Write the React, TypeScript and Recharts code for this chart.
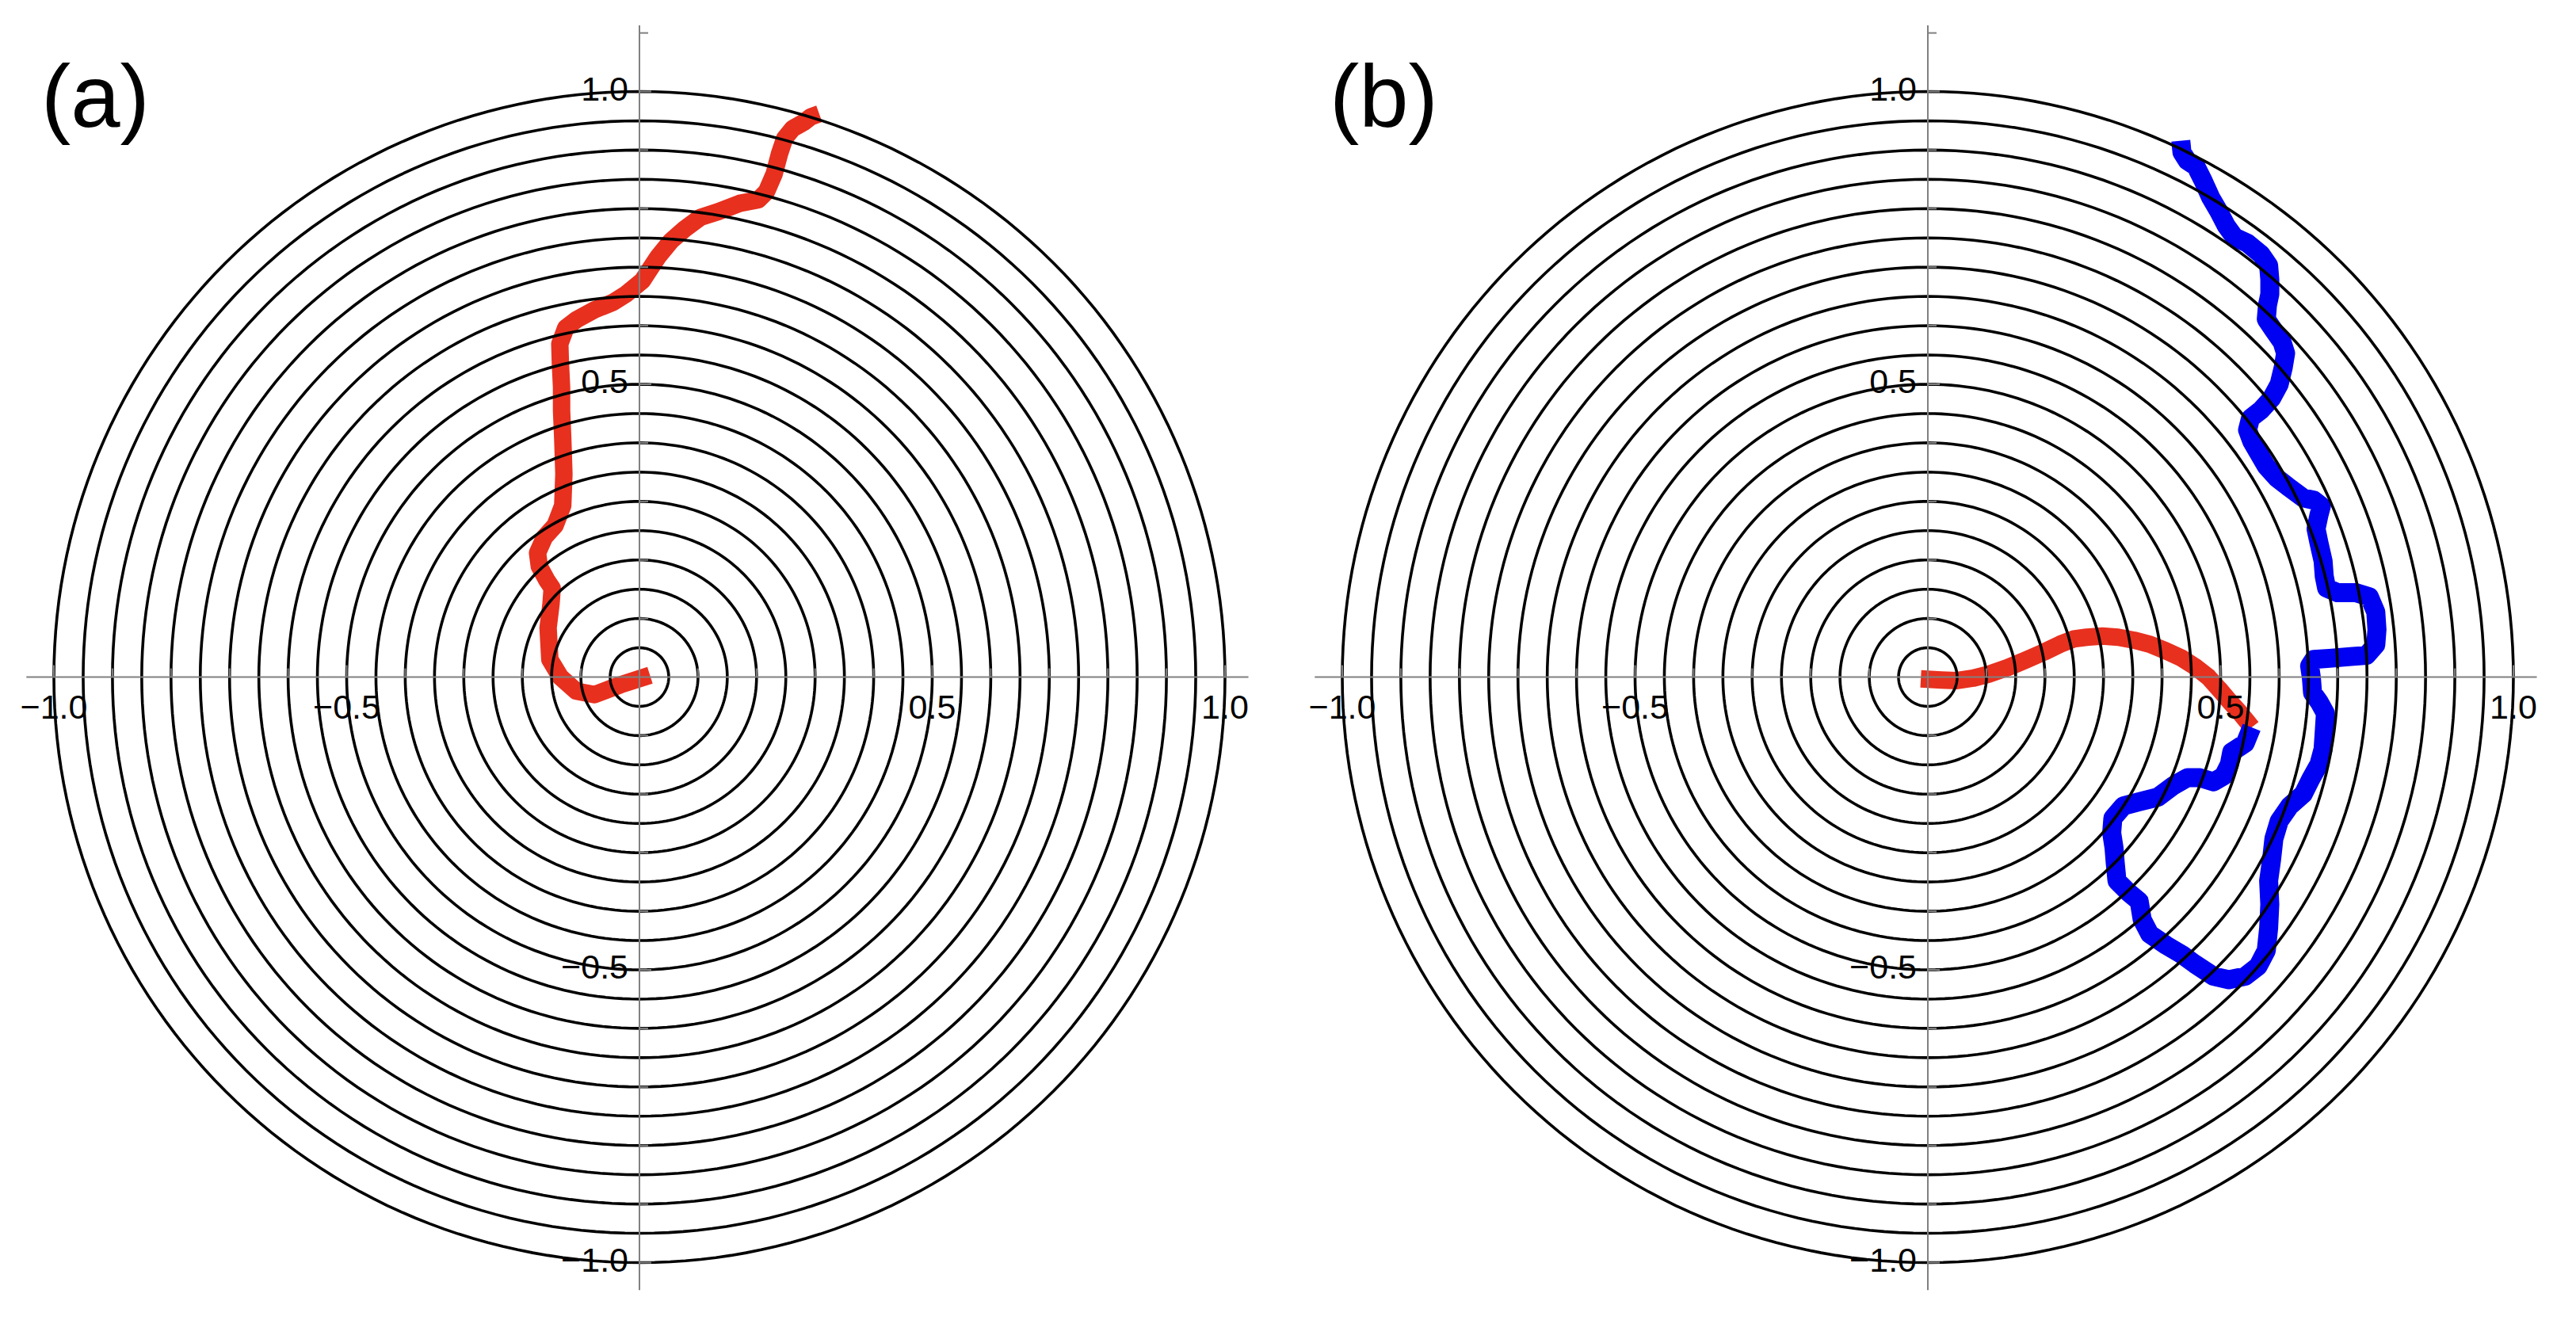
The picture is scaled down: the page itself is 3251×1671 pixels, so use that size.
import React from 'react';
import { ComposedChart, Line, XAxis, YAxis, ReferenceLine, ReferenceDot } from 'recharts';

// ---- data (x, y in plot units) ----
const redPathA: [number, number][] = [
  [0.018, 0.003], [-0.032, -0.013], [-0.077, -0.03], [-0.108, -0.024], [-0.135, 0.0], [-0.153, 0.03],
  [-0.156, 0.084], [-0.151, 0.125], [-0.149, 0.152], [-0.158, 0.165], [-0.171, 0.189], [-0.174, 0.212],
  [-0.162, 0.239], [-0.144, 0.259], [-0.131, 0.293], [-0.129, 0.347], [-0.131, 0.408], [-0.133, 0.455],
  [-0.133, 0.495], [-0.135, 0.536], [-0.136, 0.569], [-0.126, 0.596], [-0.108, 0.61], [-0.077, 0.627],
  [-0.045, 0.64], [-0.023, 0.654], [0.005, 0.677], [0.018, 0.697], [0.032, 0.718], [0.054, 0.745],
  [0.077, 0.765], [0.104, 0.785], [0.135, 0.795], [0.171, 0.809], [0.203, 0.815], [0.217, 0.829],
  [0.23, 0.859], [0.239, 0.893], [0.248, 0.92], [0.262, 0.937], [0.28, 0.947], [0.293, 0.957], [0.307, 0.962],
];

const redPathB: [number, number][] = [
  [-0.012, -0.003], [0.023, -0.005], [0.05, -0.006], [0.077, -0.002], [0.104, 0.005], [0.136, 0.016],
  [0.167, 0.029], [0.199, 0.043], [0.226, 0.056], [0.249, 0.065], [0.271, 0.068], [0.298, 0.07],
  [0.325, 0.068], [0.352, 0.063], [0.379, 0.056], [0.406, 0.045], [0.434, 0.032], [0.456, 0.018],
  [0.479, 0.0], [0.497, -0.02], [0.515, -0.041], [0.533, -0.061], [0.546, -0.077], [0.553, -0.086],
];

const bluePathB: [number, number][] = [
  [0.553, -0.086], [0.542, -0.113], [0.519, -0.128], [0.515, -0.149], [0.505, -0.169], [0.488, -0.179],
  [0.465, -0.172], [0.443, -0.172], [0.42, -0.185], [0.393, -0.205], [0.361, -0.213], [0.334, -0.22],
  [0.316, -0.241], [0.314, -0.266], [0.318, -0.292], [0.32, -0.317], [0.323, -0.348], [0.343, -0.368],
  [0.361, -0.383], [0.366, -0.414], [0.379, -0.439], [0.407, -0.458], [0.434, -0.474], [0.456, -0.49],
  [0.488, -0.511], [0.514, -0.517], [0.542, -0.511], [0.564, -0.494], [0.578, -0.467], [0.582, -0.429],
  [0.584, -0.388], [0.582, -0.348], [0.587, -0.312], [0.591, -0.276], [0.6, -0.246], [0.618, -0.22],
  [0.641, -0.2], [0.654, -0.174], [0.668, -0.149], [0.675, -0.123], [0.677, -0.093], [0.679, -0.062],
  [0.668, -0.042], [0.657, -0.027], [0.655, -0.001], [0.652, 0.019], [0.659, 0.03], [0.686, 0.032],
  [0.722, 0.035], [0.749, 0.037], [0.765, 0.055], [0.767, 0.081], [0.765, 0.111], [0.754, 0.137],
  [0.731, 0.144], [0.7, 0.144], [0.681, 0.152], [0.677, 0.172], [0.675, 0.198], [0.668, 0.229],
  [0.663, 0.253], [0.668, 0.277], [0.672, 0.292], [0.659, 0.302], [0.641, 0.306], [0.614, 0.326],
  [0.596, 0.34], [0.578, 0.36], [0.564, 0.384], [0.553, 0.403], [0.546, 0.422], [0.551, 0.442],
  [0.569, 0.456], [0.587, 0.476], [0.6, 0.5], [0.607, 0.529], [0.611, 0.553], [0.605, 0.572],
  [0.591, 0.592], [0.578, 0.611], [0.58, 0.635], [0.584, 0.654], [0.584, 0.679], [0.582, 0.703],
  [0.569, 0.722], [0.546, 0.741], [0.524, 0.751], [0.51, 0.77], [0.497, 0.795], [0.483, 0.819],
  [0.47, 0.848], [0.458, 0.872], [0.443, 0.882], [0.434, 0.896], [0.432, 0.916],
];

const ringRadii = [
  0.05, 0.1, 0.15, 0.2, 0.25, 0.3, 0.35, 0.4, 0.45, 0.5,
  0.55, 0.6, 0.65, 0.7, 0.75, 0.8, 0.85, 0.9, 0.95, 1.0,
];

const xTickValues = [-1, -0.9, -0.8, -0.7, -0.6, -0.5, -0.4, -0.3, -0.2, -0.1, 0.1, 0.2, 0.3, 0.4, 0.5, 0.6, 0.7, 0.8, 0.9, 1];
const yTickValues = [...xTickValues, 1.1];
const tickLabels: Record<string, string> = { '-1': '−1.0', '-0.5': '−0.5', '0.5': '0.5', '1': '1.0' };

const xAxisExtent = [-1.047, 1.04];
const yAxisExtent = [-1.047, 1.113];

// ---- styling ----
const FONT = "'Liberation Sans', Arial, Helvetica, sans-serif";
const AXIS_COLOR = '#808080';
const RED = '#E8301F';
const BLUE = '#0000F2';
const PANEL_W = 1626;
const PANEL_H = 1671;

const toPoints = (arr: [number, number][]) => arr.map(([x, y]) => ({ x, y }));

const ringPoints = (r: number) => {
  const steps = 240;
  return Array.from({ length: steps + 1 }, (_, i) => {
    const t = (2 * Math.PI * i) / steps;
    return { x: r * Math.cos(t), y: r * Math.sin(t) };
  });
};

const xTickShape = (v: number) => (p: any) => {
  const label = tickLabels[String(v)];
  return (
    <g>
      <line x1={p.cx} y1={p.cy} x2={p.cx} y2={p.cy - (label ? 15 : 11)} stroke={AXIS_COLOR} strokeWidth={2} />
      {label ? (
        <text x={p.cx} y={p.cy + 52} textAnchor="middle" fontSize={43} fontFamily={FONT} fill="#000">
          {label}
        </text>
      ) : null}
    </g>
  );
};

const yTickShape = (v: number) => (p: any) => {
  const label = tickLabels[String(v)];
  return (
    <g>
      <line x1={p.cx} y1={p.cy} x2={p.cx + (label ? 15 : 11)} y2={p.cy} stroke={AXIS_COLOR} strokeWidth={2} />
      {label ? (
        <text x={p.cx - 14} y={p.cy + 11} textAnchor="end" fontSize={43} fontFamily={FONT} fill="#000">
          {label}
        </text>
      ) : null}
    </g>
  );
};

function Panel({ paths }: { paths: { pts: [number, number][]; color: string; width: number }[] }) {
  return (
    <ComposedChart width={PANEL_W} height={PANEL_H} margin={{ top: 4.65, right: 13.5, bottom: 3.6, left: 1.5 }}>
      <XAxis dataKey="x" type="number" domain={[-1.09, 1.09]} allowDataOverflow hide />
      <YAxis type="number" domain={[-1.1, 1.15]} allowDataOverflow hide />
      {paths.map((s, i) => (
        <Line
          key={'p' + i}
          data={toPoints(s.pts)}
          dataKey="y"
          type="linear"
          stroke={s.color}
          strokeWidth={s.width}
          strokeLinejoin="round"
          strokeLinecap="butt"
          dot={false}
          activeDot={false}
          isAnimationActive={false}
        />
      ))}
      {ringRadii.map((r) => (
        <Line
          key={'r' + r}
          data={ringPoints(r)}
          dataKey="y"
          type="linear"
          stroke="#000"
          strokeWidth={3.6}
          dot={false}
          activeDot={false}
          isAnimationActive={false}
        />
      ))}
      <ReferenceLine
        segment={[{ x: xAxisExtent[0], y: 0 }, { x: xAxisExtent[1], y: 0 }]}
        stroke={AXIS_COLOR}
        strokeWidth={2}
        ifOverflow="visible"
      />
      <ReferenceLine
        segment={[{ x: 0, y: yAxisExtent[0] }, { x: 0, y: yAxisExtent[1] }]}
        stroke={AXIS_COLOR}
        strokeWidth={2}
        ifOverflow="visible"
      />
      {xTickValues.map((v) => (
        <ReferenceDot key={'xt' + v} x={v} y={0} r={0} ifOverflow="visible" shape={xTickShape(v)} />
      ))}
      {yTickValues.map((v) => (
        <ReferenceDot key={'yt' + v} x={0} y={v} r={0} ifOverflow="visible" shape={yTickShape(v)} />
      ))}
    </ComposedChart>
  );
}

export default function App() {
  return (
    <div style={{ position: 'absolute', left: 0, top: 0, width: 3251, height: 1671, background: '#fff' }}>
      <div style={{ position: 'absolute', left: 0, top: 0 }}>
        <Panel paths={[{ pts: redPathA, color: RED, width: 22 }]} />
      </div>
      <div style={{ position: 'absolute', left: PANEL_W, top: 0 }}>
        <Panel
          paths={[
            { pts: redPathB, color: RED, width: 22 },
            { pts: bluePathB, color: BLUE, width: 24 },
          ]}
        />
      </div>
      <svg width={3251} height={1671} style={{ position: 'absolute', left: 0, top: 0, pointerEvents: 'none' }}>
        <text x={52} y={160} fontSize={112} fontFamily={FONT} fill="#000">(a)</text>
        <text x={52 + PANEL_W} y={160} fontSize={112} fontFamily={FONT} fill="#000">(b)</text>
      </svg>
    </div>
  );
}
